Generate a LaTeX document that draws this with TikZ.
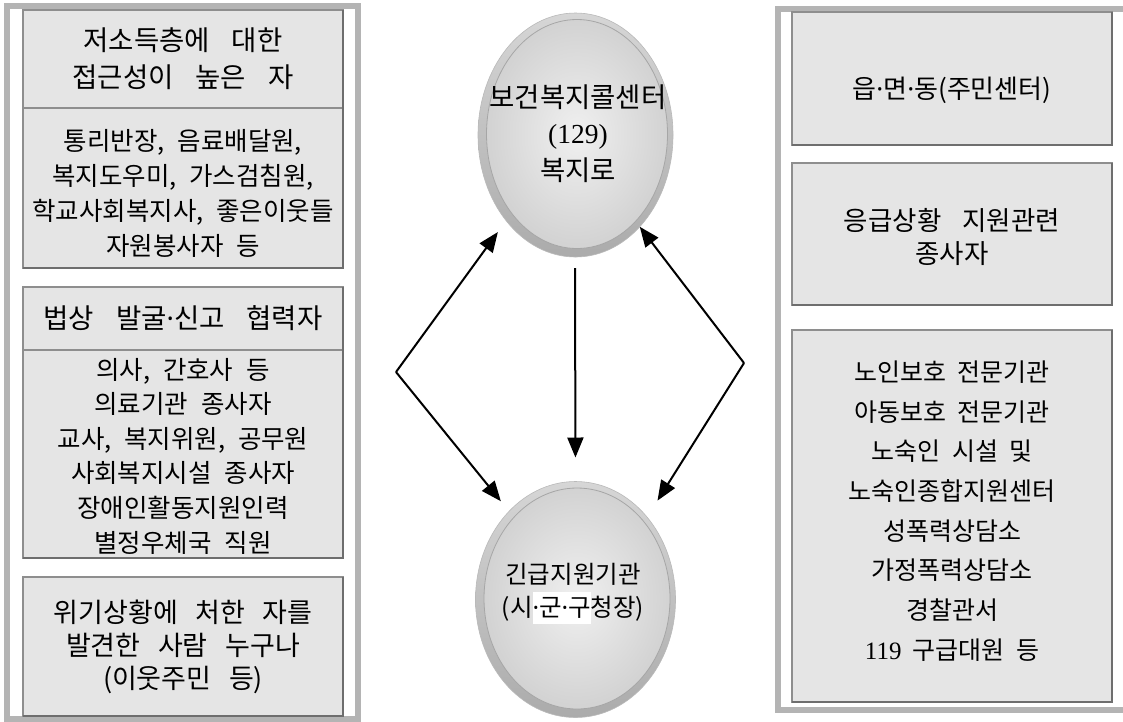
\documentclass[tikz,border=0pt]{standalone}
\usepackage{fontspec}
\setmainfont{Noto Sans CJK KR}
\newfontfamily\latf{Noto Sans}
\newfontfamily\serf{Liberation Serif}
\usetikzlibrary{arrows.meta,shapes.geometric}
\definecolor{framegray}{HTML}{B4B4B4}
\definecolor{boxfill}{HTML}{E5E5E5}
\definecolor{boxline}{HTML}{8E8E8E}
\definecolor{boxshadow}{HTML}{6E6E6E}
\definecolor{rimA}{HTML}{D6D6D6}
\definecolor{rimB}{HTML}{ABABAB}
\definecolor{faceA}{HTML}{F0F0F0}
\definecolor{faceB}{HTML}{D2D2D2}
\newcommand\myfs[3]{\fontsize{#1}{#2}\selectfont\spaceskip #3em\relax}
\newcommand\md{{\latf ·}}
\begin{document}
\begin{tikzpicture}[x=1pt,y=-1pt,
  frame/.style={draw=framegray,line width=6pt},
  pbox/.style={rectangle,draw=boxline,fill=boxfill,line width=1.2pt,inner sep=0pt,outer sep=0pt,anchor=north west},
  shadowline/.style={draw=boxshadow,line width=2.6pt},
  txt/.style={align=center,inner sep=0pt,font=\myfs{25.5}{35}{0.5}},
  rim/.style={ellipse,inner sep=0pt,outer sep=0pt,top color=rimA,bottom color=rimB,draw=gray!55,line width=0.6pt},
  face/.style={ellipse,inner sep=0pt,outer sep=0pt,inner color=faceA,outer color=faceB,draw=gray!70,line width=0.8pt},
  conn/.style={line width=2pt,-{Triangle[length=20pt,width=16pt]}}]
\useasboundingbox (0,0) rectangle (1123,721);
\clip (0,0) rectangle (1123,721);
\fill[white] (0,0) rectangle (1123,721);

% outer frames
\draw[frame] (6.5,5.5) rectangle (358,718.5);
\draw[frame] (777.5,9) rectangle (1135,710);

% left boxes
\node[pbox,minimum width=320pt,minimum height=98pt] (h1) at (23,10) {};
\node[pbox,minimum width=320pt,minimum height=160pt] (t1) at (23,108) {};
\draw[shadowline] (h1.north east) -- (t1.south east) -- (t1.south west);
\node[pbox,minimum width=320pt,minimum height=63pt] (h2) at (23,287) {};
\node[pbox,minimum width=320pt,minimum height=208pt] (t2) at (23,350) {};
\draw[shadowline] (h2.north east) -- (t2.south east) -- (t2.south west);
\node[pbox,minimum width=320pt,minimum height=139pt] (b3) at (23,577) {};
\draw[shadowline] (b3.north east) -- (b3.south east) -- (b3.south west);

\node[txt,font=\myfs{27.5}{37}{0.8}] (h1t) at (183,59) {저소득층에 대한\\접근성이 높은 자};
\node[txt] (t1t) at (183,193) {통리반장, 음료배달원,\\복지도우미, 가스검침원,\\학교사회복지사, 좋은이웃들\\자원봉사자 등};
\node[txt,font=\myfs{27.5}{35}{0.8}] (h2t) at (183,318) {법상 발굴\md 신고 협력자};
\node[txt,font=\myfs{25.5}{34.6}{0.5}] (t2t) at (183,456) {의사, 간호사 등\\의료기관 종사자\\교사, 복지위원, 공무원\\사회복지시설 종사자\\장애인활동지원인력\\별정우체국 직원};
\node[txt,font=\myfs{27}{33}{0.65}] (b3t) at (183,647) {위기상황에 처한 자를\\발견한 사람 누구나\\(이웃주민 등)};

% right boxes
\node[pbox,minimum width=320pt,minimum height=133pt] (r1) at (792,12) {};
\draw[shadowline] (r1.north east) -- (r1.south east) -- (r1.south west);
\node[pbox,minimum width=320pt,minimum height=142pt] (r2) at (792,163) {};
\draw[shadowline] (r2.north east) -- (r2.south east) -- (r2.south west);
\node[pbox,minimum width=320pt,minimum height=372pt] (r3) at (792,330) {};
\draw[shadowline] (r3.north east) -- (r3.south east) -- (r3.south west);

\node[txt,font=\myfs{26}{35}{0.5}] (r1t) at (952,90) {읍\md 면\md 동(주민센터)};
\node[txt,font=\myfs{26.5}{33}{0.8}] (r2t) at (952,236.5) {응급상황 지원관련\\종사자};
\node[txt,font=\myfs{25}{39.7}{0.45}] (r3t) at (952,511) {노인보호 전문기관\\아동보호 전문기관\\노숙인 시설 및\\노숙인종합지원센터\\성폭력상담소\\가정폭력상담소\\경찰관서\\{\serf 119} 구급대원 등};

% ellipses
\node[rim,minimum width=195pt,minimum height=244pt] (top) at (575.5,135) {};
\node[face,minimum width=181pt,minimum height=229pt] (topf) at (577,134) {};
\node[txt,font=\myfs{27.5}{36.5}{0.3}] (topt) at (578,133.5) {보건복지콜센터\\{\serf (129)}\\복지로};

\node[rim,minimum width=200pt,minimum height=236pt] (bot) at (575.5,599.5) {};
\node[face,minimum width=186pt,minimum height=221pt] (botf) at (577,598.5) {};
\node[txt,font=\myfs{24.5}{33}{0.3}] (bott) at (573,593.5) {긴급지원기관\\(시{\fboxsep=0pt\colorbox{white}{\rule[-0.32em]{0pt}{1.3em}\md 군\md 구}}청장)};

% connectors
\coordinate (lc) at (396,372);
\coordinate (rc) at (744,363);
\coordinate (mc) at (575,268);
\draw[conn,shorten >=14pt] (lc) -- (top.231);
\draw[conn,shorten >=13pt] (lc) -- (bot.127.6);
\draw[conn] (rc) -- (top.305);
\draw[conn,shorten >=19.5pt] (rc) -- (bot.49.6);
\draw[conn,shorten >=24pt] (mc) -- (bot.north);
\end{tikzpicture}
\end{document}
